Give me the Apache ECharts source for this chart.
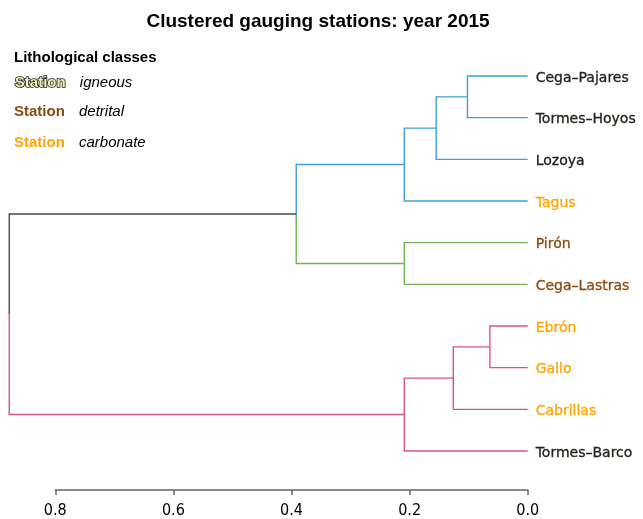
<!DOCTYPE html>
<html>
<head>
<meta charset="utf-8">
<script src="https://cdn.jsdelivr.net/npm/echarts@6/dist/echarts.min.js"></script>
<style>html,body{margin:0;padding:0;background:#fff;}#c{width:643px;height:519px;}</style>
</head>
<body>
<div id="c"></div>
<script>
// Leaves (top to bottom) and their lithological class
const leaves = ['Cega–Pajares', 'Tormes–Hoyos', 'Lozoya', 'Tagus', 'Pirón', 'Cega–Lastras', 'Ebrón', 'Gallo', 'Cabrillas', 'Tormes–Barco'];
const leafClass = ['igneous', 'igneous', 'igneous', 'carbonate', 'detrital', 'detrital', 'carbonate', 'carbonate', 'carbonate', 'igneous'];
// Merge table (R hclust style: negative = leaf index+1, positive = merge step)
const mergeA = [-1, -3, 2, -5, 3, -7, 6, 7, 5];
const mergeB = [-2, 1, -4, -6, 4, -8, -9, -10, 8];
const mergeHeight = [0.102, 0.155, 0.209, 0.209, 0.392, 0.064, 0.126, 0.209, 0.878];
// Cluster colouring of merge nodes (branch colour = colour of child node)
const nodeCluster = [0, 0, 0, 1, null, 2, 2, 2, null];
const leafCluster = [0, 0, 0, 0, 1, 1, 2, 2, 2, 2];
const xTicks = [0, 0.2, 0.4, 0.6, 0.8];
const legendClasses = ['igneous', 'detrital', 'carbonate'];

const clusterColors = ['#3f9edb', '#6fb552', '#d95480'];
const rootColor = '#4a4a4a';
const classColors = { igneous: '#f4f0b8', detrital: '#8a4a12', carbonate: '#ffa500' };

// compute node positions
const nodeY = [], nodeH = [];
function childInfo(c) {
  if (c < 0) { const i = -c - 1; return { y: i, h: 0, cl: leafCluster[i] }; }
  return { y: nodeY[c - 1], h: nodeH[c - 1], cl: nodeCluster[c - 1] };
}
for (let k = 0; k < mergeA.length; k++) {
  const a = childInfo(mergeA[k]), b = childInfo(mergeB[k]);
  nodeY[k] = (a.y + b.y) / 2;
  nodeH[k] = mergeHeight[k];
}
const segs = [];
for (let k = 0; k < mergeA.length; k++) {
  [mergeA[k], mergeB[k]].forEach(c => {
    const ch = childInfo(c);
    const col = ch.cl === null || ch.cl === undefined ? rootColor : clusterColors[ch.cl];
    segs.push({ value: [nodeH[k], nodeY[k], nodeH[k], ch.y, ch.h, ch.y], color: col });
  });
}

const chart = echarts.init(document.getElementById('c'), null, { renderer: 'canvas' });
const option = {
  animation: false,
  backgroundColor: '#fff',
  title: {
    text: 'Clustered gauging stations: year 2015',
    left: 313, top: 7, textAlign: 'center',
    textStyle: { fontFamily: 'Liberation Sans', fontWeight: 'bold', fontSize: 19, color: '#000' }
  },
  grid: { left: 55.3, right: 115.3, top: 76, height: 378 },
  xAxis: {
    type: 'value', inverse: true, min: 0, max: 0.8, interval: 0.2,
    offset: 39,
    axisLine: { show: true, onZero: false, lineStyle: { color: '#666', width: 1.5 } },
    axisTick: { show: true, length: 5, inside: false, lineStyle: { color: '#666', width: 1.5 } },
    axisLabel: { color: '#000', fontFamily: 'DejaVu Sans Condensed', fontSize: 16, margin: 13,
      formatter: v => v.toFixed(1) },
    splitLine: { show: false }
  },
  yAxis: { type: 'value', inverse: true, min: 0, max: 9, show: false, splitLine: { show: false } },
  graphic: [
    { type: 'text', left: 14, top: 50, style: { text: 'Lithological classes', font: 'bold 15px "Liberation Sans"', fill: '#000' } },
  ].concat(legendClasses.map((c, i) => ({
    type: 'group', left: 14, top: [75, 104, 135][i],
    children: [
      { type: 'text', x: 0, y: 0, style: { text: 'Station', font: 'bold 15px "Liberation Sans"', fill: classColors[c],
        stroke: c === 'igneous' ? '#1a1a1a' : null, lineWidth: c === 'igneous' ? 1.6 : 0 } },
      { type: 'text', x: 65, y: 0, style: { text: c, font: 'italic 15px "Liberation Sans"', fill: '#000' } }
    ]
  }))),
  series: [
    {
      type: 'custom', clip: false, silent: true,
      data: segs,
      renderItem: (params, api) => {
        const p1 = api.coord([api.value(0), api.value(1)]);
        const p2 = api.coord([api.value(2), api.value(3)]);
        const p3 = api.coord([api.value(4), api.value(5)]);
        return {
          type: 'polyline',
          shape: { points: [p1, p2, p3] },
          style: { stroke: segs[params.dataIndex].color, lineWidth: 1.4, fill: null }
        };
      }
    },
    {
      type: 'custom', clip: false, silent: true,
      data: leaves.map((n, i) => [0, i]),
      renderItem: (params, api) => {
        const p = api.coord([api.value(0), api.value(1)]);
        const cls = leafClass[params.dataIndex];
        const ign = cls === 'igneous';
        const col = ign ? '#22221a' : classColors[cls];
        return {
          type: 'text',
          x: p[0] + 8, y: p[1] + 2,
          style: {
            text: leaves[params.dataIndex],
            font: '14px "DejaVu Sans"',
            fill: col, stroke: col, lineWidth: 0.3,
            textAlign: 'left', textVerticalAlign: 'middle'
          }
        };
      }
    }
  ]
};
chart.setOption(option);
</script>
</body>
</html>
